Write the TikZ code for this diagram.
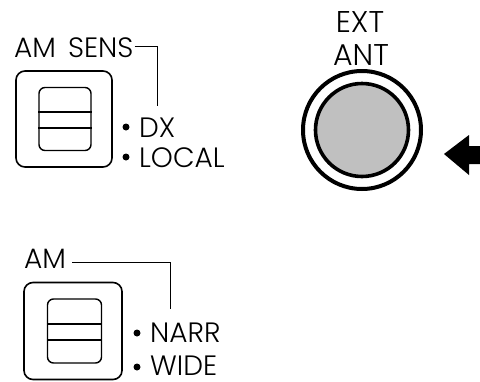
\documentclass[tikz,border=0pt]{standalone}
\usepackage{fontspec}
\setmainfont{Poppins}[UprightFont=* Light]
\begin{document}
\begin{tikzpicture}[x=1pt,y=-1pt,
  lbl/.style={inner sep=0pt,anchor=base west,font=\fontsize{28}{28}\selectfont},
  big/.style={inner sep=0pt,anchor=base,font=\fontsize{30}{30}\selectfont},
  outerbox/.style={draw,line width=1.6pt,rounded corners=9pt},
  innerbox/.style={draw,line width=1.4pt,rounded corners=6pt},
  lead/.style={line width=1pt},
  dot/.style={circle,fill,inner sep=0pt,minimum size=7pt}]
\useasboundingbox (0,0) rectangle (480,381);
% top switch
\node[outerbox,minimum width=96pt,minimum height=96pt] (sw1) at (64,119) {};
\node[innerbox,minimum width=52pt,minimum height=63pt] (k1) at (65,119) {};
\draw[line width=1.4pt] (k1.west |- 0,112) -- (k1.east |- 0,112);
\draw[line width=1.4pt] (k1.west |- 0,128) -- (k1.east |- 0,128);
\node[lbl] (sens) at (14,57) {AM\hspace{12pt}SENS};
\coordinate (sensend) at (157,106);
\draw[lead] ([xshift=1pt]sens.east |- 0,46) -| (sensend);
\node[dot] (d1) at (126,127) {};
\node[dot] (d2) at (126,157) {};
\node[lbl] (dx) at (139,137) {DX};
\node[lbl] (loc) at (139,167) {LOCAL};
% bottom switch
\node[outerbox,minimum width=98pt,minimum height=97pt] (sw2) at (73,331) {};
\node[innerbox,minimum width=54pt,minimum height=64pt] (k2) at (74.5,331) {};
\draw[line width=1.4pt] (k2.west |- 0,324) -- (k2.east |- 0,324);
\draw[line width=1.4pt] (k2.west |- 0,340) -- (k2.east |- 0,340);
\node[lbl] (am) at (24,268) {AM};
\coordinate (amend) at (170,309);
\draw[lead] (72,262) -| (amend);
\node[dot] (d3) at (137,333) {};
\node[dot] (d4) at (137,367) {};
\node[lbl] (narr) at (150,342) {NARR};
\node[lbl] (wide) at (150,375) {WIDE};
% ext ant
\node[circle,draw,line width=4pt,minimum size=118pt] (ring) at (362,130) {};
\node[circle,draw,line width=3.6pt,fill={rgb,255:red,192;green,192;blue,192},minimum size=93pt] (knob) at (362,130) {};
\node[big] (ext) at (360,32) {EXT};
\node[big] (ant) at (361,65) {ANT};
% arrow
\fill (444,154) -- (469,135) -- (469,146) -- (481,146) -- (481,164) -- (469,164) -- (469,175) -- cycle;
\end{tikzpicture}
\end{document}
